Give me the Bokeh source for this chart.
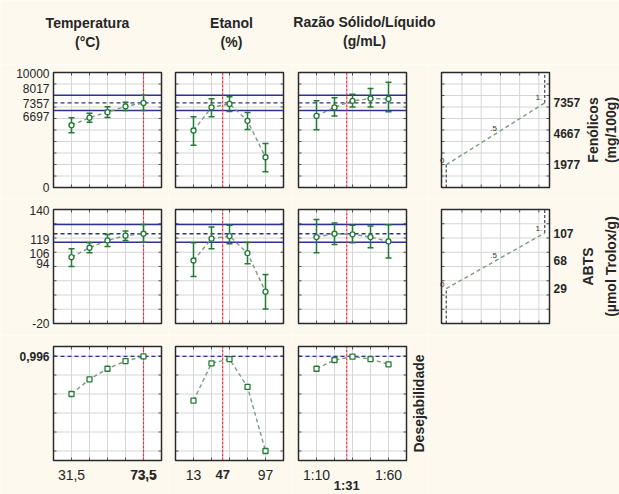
import numpy as np
from bokeh.plotting import figure
from bokeh.models import Range1d, Whisker, TeeHead, ColumnDataSource
from bokeh.layouts import row, column
from bokeh.core.properties import value
from bokeh.embed import file_html
from bokeh.resources import INLINE

# ---------------- data ----------------
factor_names = ["Temperatura", "Etanol", "Razão Sólido/Líquido"]
factor_units = ["(°C)", "(%)", "(g/mL)"]
temp_levels = [31.5, 42.0, 52.5, 63.0, 73.5]
etanol_levels = [13, 34, 55, 76, 97]
razao_levels = [10, 22.5, 35, 47.5, 60]
current_levels = [73.5, 47, 31]
edge_tick_labels = [["31,5", "73,5"], ["13", "97"], ["1:10", "1:60"]]
current_tick_labels = ["73,5", "47", "1:31"]

# Fenólicos (mg/100g)
fen_temp = [5413, 6068, 6553, 7056, 7357]
fen_temp_lo = [4758, 5680, 6093, 6696, 6697]
fen_temp_hi = [6068, 6460, 7013, 7416, 8017]
fen_etanol = [4955, 6966, 7271, 5799, 2630]
fen_etanol_lo = [3680, 6158, 6607, 5054, 1373]
fen_etanol_hi = [6158, 7720, 7900, 6517, 3824]
fen_razao = [6221, 6966, 7540, 7730, 7700]
fen_razao_lo = [5027, 6221, 7000, 7000, 6580]
fen_razao_hi = [7540, 7810, 8106, 8617, 9156]
fen_pred = 7357
fen_ci = [6697, 8017]
fen_axis = [0, 10000]
fen_desir_levels = [1977, 4667, 7357]

# ABTS (µmol Trolox/g)
abts_temp = [73.1, 86.3, 96.6, 103.3, 106]
abts_temp_lo = [60, 79.3, 88.2, 96.6, 94]
abts_temp_hi = [85, 93.4, 105, 109.8, 119]
abts_etanol = [68.4, 99, 102.7, 78.7, 24.7]
abts_etanol_lo = [45.9, 85, 92, 63.8, 0.3]
abts_etanol_hi = [93.4, 115.4, 117.8, 93.8, 48.7]
abts_razao = [101.3, 106, 105.1, 101.3, 95.2]
abts_razao_lo = [79.3, 91, 93.4, 86.3, 72]
abts_razao_hi = [125.8, 121, 117.8, 116.8, 118.5]
abts_pred = 106
abts_ci = [94, 119]
abts_axis = [-20, 140]
abts_desir_levels = [29, 68, 107]

# Desejabilidade
des_temp = [0.60, 0.755, 0.866, 0.947, 0.996]
des_etanol = [0.53, 0.923, 0.968, 0.674, 0.0]
des_razao = [0.866, 0.958, 0.993, 0.968, 0.912]
des_opt = 0.996
des_axis = [-0.1, 1.1]
desir_marks = [0, 0.5, 1]
desir_mark_labels = ["0", ".5", "1."]
desir_axis = [-0.048, 1.048]

# ---------------- style / layout ----------------
BG = "#FDF9EF"
GRID = "#D6D6D6"
TICK = "#555555"
OUTLINE = "#2A2A2A"
NAVY = "#2E3192"
GREEN = "#237A36"
CURVE = "#7C9B80"
RED = "#E8333F"
TXT = "#262626"
FONT = "Liberation Sans"
W_cols = [168, 123, 137, 191]
L_cols = [53, 7, 7, 13]
R_cols = [7, 8, 22, 70]
H_rows = [134, 137, 159]
T_rows = [8, 11, 11]
B_rows = [11, 12, 34]
HEADER_H = 64
TICK_PX = 3
levels_all = [temp_levels, etanol_levels, razao_levels]


def plain_fig(w, h, xr, yr):
    p = figure(width=w, height=h, x_range=xr, y_range=yr, min_border=0,
               x_axis_location=None, y_axis_location=None, title=None,
               output_backend="svg", toolbar_location=None,
               background_fill_color=BG, border_fill_color=BG, outline_line_color=None)
    p.grid.visible = False
    return p


def panel_fig(c, r, xlim, ylim):
    W, L, R = W_cols[c], L_cols[c], R_cols[c]
    H, T, B = H_rows[r], T_rows[r], B_rows[r]
    x0, x1 = xlim
    y0, y1 = ylim
    sx = (x1 - x0) / (W - L - R)
    sy = (y1 - y0) / (H - T - B)
    p = plain_fig(W, H, Range1d(x0 - L * sx, x1 + R * sx), Range1d(y0 - B * sy, y1 + T * sy))
    p.quad(left=[x0], right=[x1], bottom=[y0], top=[y1], fill_color="white",
           line_color=None, level="image")
    return p, sx, sy


def gridlines(p, xlim, ylim, xt, yt, sx, sy):
    xs = [t for t in xt if xlim[0] < t < xlim[1]]
    ys = [t for t in yt if ylim[0] < t < ylim[1]]
    nx, ny = len(xs), len(ys)
    p.segment(x0=xs, y0=[ylim[0]] * nx, x1=xs, y1=[ylim[1]] * nx,
              line_color=GRID, line_width=1, level="image")
    p.segment(x0=[xlim[0]] * ny, y0=ys, x1=[xlim[1]] * ny, y1=ys,
              line_color=GRID, line_width=1, level="image")
    tx, ty = TICK_PX * sx, TICK_PX * sy
    # short inner ticks on the four edges
    p.segment(x0=xs + xs, y0=[ylim[0]] * nx + [ylim[1]] * nx,
              x1=xs + xs, y1=[ylim[0] + ty] * nx + [ylim[1] - ty] * nx,
              line_color=TICK, line_width=1, level="image")
    p.segment(x0=[xlim[0]] * ny + [xlim[1]] * ny, y0=ys + ys,
              x1=[xlim[0] + tx] * ny + [xlim[1] - tx] * ny, y1=ys + ys,
              line_color=TICK, line_width=1, level="image")


def outline(p, xlim, ylim):
    p.quad(left=[xlim[0]], right=[xlim[1]], bottom=[ylim[0]], top=[ylim[1]],
           fill_color=None, line_color=OUTLINE, line_width=1.5)


def txt(p, xs, ys, texts, size="12px", bold=False, align="center", xo=0, yo=0, angle=0, color=TXT):
    p.text(x=list(xs), y=list(ys), text=list(texts), x_offset=xo, y_offset=yo, angle=angle,
           text_font=value(FONT), text_font_size=size,
           text_font_style="bold" if bold else "normal",
           text_align=align, text_baseline="middle", text_color=color)


def profile_panel(r, c, mean, lo, hi, yaxis, ygrid, pred, ci, square=False):
    levels = levels_all[c]
    step = levels[1] - levels[0]
    xlim = (levels[0] - step, levels[-1] + step)
    p, sx, sy = panel_fig(c, r, xlim, yaxis)
    gridlines(p, xlim, yaxis, levels, ygrid, sx, sy)
    n = len(ci)
    if n:
        p.segment(x0=[xlim[0]] * n, y0=ci, x1=[xlim[1]] * n, y1=ci,
                  line_color=NAVY, line_width=1.5, level="underlay")
    p.segment(x0=[xlim[0]], y0=[pred], x1=[xlim[1]], y1=[pred],
              line_color=NAVY, line_width=1.3, line_dash="4 3", level="underlay")
    p.segment(x0=[current_levels[c]], y0=[yaxis[0]], x1=[current_levels[c]], y1=[yaxis[1]],
              line_color=RED, line_width=1.2, line_dash="3 1", level="underlay")
    p.line(levels, mean, line_color=CURVE, line_width=1.4, line_dash="4 3")
    if lo is not None:
        src = ColumnDataSource(dict(x=levels, lo=lo, hi=hi))
        p.add_layout(Whisker(source=src, base="x", lower="lo", upper="hi", level="underlay",
                             line_color=GREEN, line_width=1.5,
                             lower_head=TeeHead(size=6, line_color=GREEN, line_width=1.5),
                             upper_head=TeeHead(size=6, line_color=GREEN, line_width=1.5)))
    p.scatter(levels, mean, marker="square" if square else "circle", size=5,
              fill_color="white", line_color=GREEN, line_width=1.3)
    outline(p, xlim, yaxis)
    return p, xlim


def desir_panel(r, yaxis, ygrid, dlevels, line1, line2, off1, off2):
    xlim = tuple(desir_axis)
    p, sx, sy = panel_fig(3, r, xlim, yaxis)
    gridlines(p, xlim, yaxis, list(np.linspace(0.16, 0.94, 5)), ygrid, sx, sy)
    p.segment(x0=[desir_marks[0], desir_marks[-1]], y0=[yaxis[0], dlevels[-1]],
              x1=[desir_marks[0], desir_marks[-1]], y1=[dlevels[0], yaxis[1]],
              line_color="#222222", line_width=1, line_dash="3 2")
    p.line(desir_marks, dlevels, line_color=CURVE, line_width=1.4, line_dash="4 3")
    txt(p, desir_marks, dlevels, desir_mark_labels, size="8px", xo=[-4, -2, -6], yo=[-4, -5, -5],
        color="#333333")
    outline(p, xlim, yaxis)
    txt(p, [xlim[1]] * len(dlevels), dlevels, [str(v) for v in dlevels], size="12px", bold=True,
        align="left", xo=4)
    mid = (yaxis[0] + yaxis[1]) / 2
    txt(p, [xlim[1]], [mid], [line1], size="14px", bold=True, xo=off1, angle=np.pi / 2)
    txt(p, [xlim[1]], [mid], [line2], size="14px", bold=True, xo=off2, angle=np.pi / 2)
    return p


# ---------------- header ----------------
header = plain_fig(sum(W_cols), HEADER_H, Range1d(0, sum(W_cols)), Range1d(0, HEADER_H))
title_x = [87, 231, 364]
title_y1 = [HEADER_H - 22, HEADER_H - 22, HEADER_H - 21]
title_y2 = [HEADER_H - 41, HEADER_H - 41, HEADER_H - 40]
txt(header, title_x, title_y1, factor_names, size="14px", bold=True)
txt(header, title_x, title_y2, factor_units, size="14px", bold=True)

# ---------------- rows ----------------
fen_sets = [(fen_temp, fen_temp_lo, fen_temp_hi), (fen_etanol, fen_etanol_lo, fen_etanol_hi),
            (fen_razao, fen_razao_lo, fen_razao_hi)]
abts_sets = [(abts_temp, abts_temp_lo, abts_temp_hi), (abts_etanol, abts_etanol_lo, abts_etanol_hi),
             (abts_razao, abts_razao_lo, abts_razao_hi)]
des_sets = [des_temp, des_etanol, des_razao]

fen_grid = np.arange(fen_axis[0], fen_axis[1] + 1, 1000)
abts_grid = np.arange(abts_axis[0], abts_axis[1] + 1, 20)
des_grid = np.round(np.arange(0, 1.01, 0.2), 2)

row1 = []
for c in range(3):
    m, lo, hi = fen_sets[c]
    p, xlim = profile_panel(0, c, m, lo, hi, fen_axis, fen_grid, fen_pred, fen_ci)
    if c == 0:
        ticks = [fen_axis[0], fen_ci[0], fen_pred, fen_ci[1], fen_axis[1]]
        txt(p, [xlim[0]] * 5, ticks, [str(t) for t in ticks], size="12px", align="right",
            xo=-4, yo=[0, 6, 1, -7, 1])
    row1.append(p)
row1.append(desir_panel(0, fen_axis, fen_grid, fen_desir_levels, "Fenólicos", "(mg/100g)", 43, 61))

row2 = []
for c in range(3):
    m, lo, hi = abts_sets[c]
    p, xlim = profile_panel(1, c, m, lo, hi, abts_axis, abts_grid, abts_pred, abts_ci)
    if c == 0:
        ticks = [abts_axis[0], abts_ci[0], abts_pred, abts_ci[1], abts_axis[1]]
        txt(p, [xlim[0]] * 5, ticks, [str(t) for t in ticks], size="12px", align="right",
            xo=-4, yo=[0, 21, 20, 15, 1])
    row2.append(p)
row2.append(desir_panel(1, abts_axis, abts_grid, abts_desir_levels, "ABTS", "(µmol Trolox/g)", 38, 61))

row3 = []
for c in range(3):
    p, xlim = profile_panel(2, c, des_sets[c], None, None, des_axis, des_grid, des_opt, [], square=True)
    if c == 0:
        txt(p, [xlim[0]], [des_opt], [f"{des_opt:.3f}".replace(".", ",")], size="12px", bold=True,
            align="right", xo=-4)
    lv = levels_all[c]
    txt(p, [lv[0], lv[-1]], [des_axis[0]] * 2, edge_tick_labels[c], size="14px", yo=14)
    txt(p, [current_levels[c]], [des_axis[0]], [current_tick_labels[c]], size="13px", bold=True,
        yo=25 if c == 2 else 14)
    if c == 2:
        txt(p, [xlim[1]], [(des_axis[0] + des_axis[1]) / 2], ["Desejabilidade"], size="14px",
            bold=True, xo=12, angle=np.pi / 2)
    row3.append(p)
row3.append(plain_fig(W_cols[3], H_rows[2], Range1d(0, 1), Range1d(0, 1)))

layout = column(header, row(*row1), row(*row2), row(*row3))
open("out.html", "w").write(file_html(layout, INLINE))
